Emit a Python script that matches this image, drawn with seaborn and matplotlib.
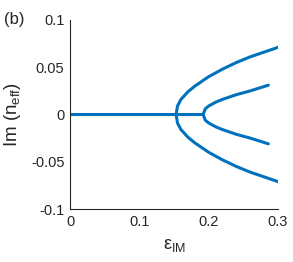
import matplotlib
matplotlib.use('Agg')
import matplotlib.pyplot as plt
import seaborn as sns
import pandas as pd

sns.set_style('white')
plt.rcParams['font.family'] = ['Liberation Sans', 'DejaVu Sans']
plt.rcParams['mathtext.fontset'] = 'custom'
plt.rcParams['mathtext.rm'] = 'Liberation Sans'
plt.rcParams['mathtext.it'] = 'Liberation Sans'

# Данные
zero_x = [0.0, 0.05, 0.10, 0.15, 0.192]
zero_y = [0.0, 0.0, 0.0, 0.0, 0.0]

outer_x = [0.153, 0.155, 0.16, 0.17, 0.18, 0.20, 0.22, 0.24, 0.26, 0.28, 0.30]
outer_y = [0.0, 0.009, 0.016, 0.024, 0.030, 0.040, 0.048, 0.055, 0.061, 0.066, 0.071]

inner_x = [0.192, 0.195, 0.20, 0.21, 0.22, 0.24, 0.26, 0.286]
inner_y = [0.0, 0.006, 0.009, 0.013, 0.016, 0.021, 0.025, 0.031]

x_ticks = [0, 0.1, 0.2, 0.3]
x_labels = ['0', '0.1', '0.2', '0.3']
y_ticks = [-0.1, -0.05, 0, 0.05, 0.1]
y_labels = ['-0.1', '-0.05', '0', '0.05', '0.1']

branches = [
    ('zero', zero_x, zero_y),
    ('outer+', outer_x, outer_y),
    ('outer-', outer_x, [-v for v in outer_y]),
    ('inner+', inner_x, inner_y),
    ('inner-', inner_x, [-v for v in inner_y]),
]
df = pd.concat([pd.DataFrame({'x': bx, 'y': by, 'branch': name}) for name, bx, by in branches])

fig = plt.figure(figsize=(2.93, 2.62), dpi=100)
ax = fig.add_axes([0.239, 0.202, 0.710, 0.722])
color = '#0072BD'
for name, sub in df.groupby('branch', sort=False):
    sns.lineplot(data=sub, x='x', y='y', ax=ax, color=color, linewidth=2.2, sort=False, estimator=None)

ax.set_xlim(0, 0.3)
ax.set_ylim(-0.1, 0.1)
ax.set_xticks(x_ticks)
ax.set_xticklabels(x_labels)
ax.set_yticks(y_ticks)
ax.set_yticklabels(y_labels)
ax.tick_params(direction='in', length=3, width=0.8, labelsize=10.5, colors='#262626', pad=4)
for s in ['top', 'right']:
    ax.spines[s].set_visible(False)
for s in ['left', 'bottom']:
    ax.spines[s].set_color('#262626')
    ax.spines[s].set_linewidth(0.8)

ax.set_xlabel(r'$\mathrm{ε_{IM}}$', fontsize=13, labelpad=6)
ax.set_ylabel(r'Im (n$_{\mathrm{eff}}$)', fontsize=13.5, labelpad=4)
ax.yaxis.set_label_coords(-0.225, 0.5)
fig.text(0.012, 0.925, '(b)', fontsize=12, va='center', ha='left')

fig.savefig('out.png', dpi=100)
